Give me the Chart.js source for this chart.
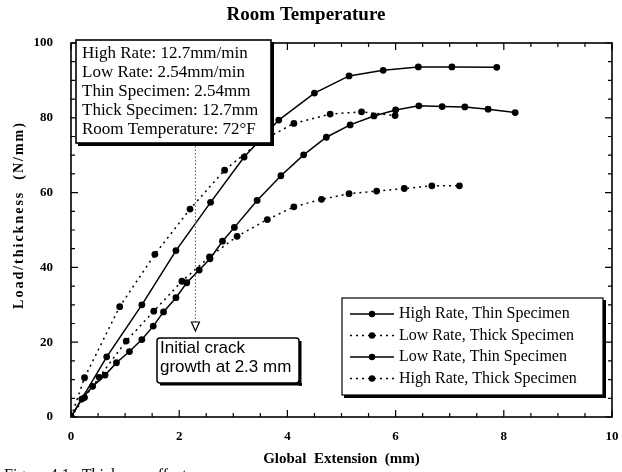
<!DOCTYPE html>
<html>
<head>
<meta charset="utf-8">
<script src="https://cdn.jsdelivr.net/npm/chart.js@4"></script>
<style>
html,body{margin:0;padding:0;background:#fff;}
#wrap{width:622px;height:472px;}
</style>
</head>
<body>
<div id="wrap"><canvas id="c" width="622" height="472"></canvas></div>
<script>
// ---- data ----
const seriesNames = ['High Rate, Thin Specimen','Low Rate, Thick Specimen','Low Rate, Thin Specimen','High Rate, Thick Specimen'];

const highThinX = [0, 0.66, 1.31, 1.94, 2.58, 3.2, 3.84, 4.5, 5.14, 5.77, 6.42, 7.04, 7.87];
const highThinY = [0, 16.1, 30, 44.5, 57.4, 69.5, 79.4, 86.6, 91.2, 92.7, 93.6, 93.6, 93.5];

const lowThickX = [0, 0.25, 0.9, 1.55, 2.2, 2.84, 3.48, 4.12, 4.79, 5.37, 5.99];
const lowThickY = [0, 10.5, 29.5, 43.5, 55.6, 66, 73.5, 78.5, 81, 81.6, 80.6];

const lowThinX = [0, 0.2, 0.4, 0.63, 0.84, 1.08, 1.31, 1.52, 1.71, 1.94, 2.14, 2.37, 2.57, 2.8, 3.02, 3.44, 3.88, 4.3, 4.72, 5.16, 5.6, 6.0, 6.43, 6.86, 7.28, 7.71, 8.21];
const lowThinY = [0, 4.8, 8.2, 11.2, 14.5, 17.5, 20.7, 24.3, 28.1, 31.9, 35.9, 39.3, 42.3, 47, 50.7, 57.9, 64.5, 70.1, 74.8, 78.1, 80.5, 82.1, 83.2, 83, 82.9, 82.3, 81.4];

const highThickX = [0, 0.25, 0.52, 1.02, 1.53, 2.05, 2.56, 3.07, 3.63, 4.12, 4.63, 5.14, 5.65, 6.16, 6.67, 7.18];
const highThickY = [0, 5.2, 10.6, 20.3, 28.3, 36.3, 42.8, 48.3, 52.8, 56.2, 58.2, 59.7, 60.4, 61.1, 61.8, 61.8];

const xTicks = [0, 2, 4, 6, 8, 10];
const yTicks = [0, 20, 40, 60, 80, 100];

const infoLines = ['High Rate: 12.7mm/min','Low Rate: 2.54mm/min','Thin Specimen: 2.54mm','Thick Specimen: 12.7mm','Room Temperature: 72\u00B0F'];
const crackLines = ['Initial crack','growth at 2.3 mm'];
const crackX = 2.3;

// ---- build ----
function pts(xs, ys){ return xs.map((x,i)=>({x:x, y:ys[i]})); }
const dashes = [[], [2,4], [], [2,4]];
const seriesData = [pts(highThinX,highThinY), pts(lowThickX,lowThickY), pts(lowThinX,lowThinY), pts(highThickX,highThickY)];

const datasets = seriesNames.map((n,i)=>({
  label: n,
  data: seriesData[i],
  borderColor: '#000',
  backgroundColor: '#000',
  borderWidth: 1.5,
  borderDash: dashes[i],
  pointRadius: 3.4,
  pointStyle: 'circle',
  pointBorderWidth: 0,
  pointBackgroundColor: '#000',
  tension: 0,
  fill: false
}));

const serif = 'Liberation Serif, Times New Roman, serif';
const sans = 'Liberation Sans, Arial, sans-serif';

const deco = {
  id: 'deco',
  afterDatasetsDraw(chart){
    const ctx = chart.ctx;
    const a = chart.chartArea;
    const xs = chart.scales.x, ys = chart.scales.y;
    ctx.save();
    ctx.strokeStyle = '#000';
    ctx.fillStyle = '#000';
    // frame
    ctx.lineWidth = 1.6;
    ctx.setLineDash([]);
    ctx.strokeRect(a.left, a.top, a.right - a.left, a.bottom - a.top);
    // inward ticks
    ctx.lineWidth = 1.2;
    ctx.beginPath();
    for (let v = 0; v <= 10.0001; v += 0.5){
      const px = xs.getPixelForValue(v);
      const len = (Math.abs(v/2 - Math.round(v/2)) < 1e-6) ? 7 : 4;
      ctx.moveTo(px, a.bottom); ctx.lineTo(px, a.bottom - len);
      ctx.moveTo(px, a.top); ctx.lineTo(px, a.top + len);
    }
    for (let v = 0; v <= 100.0001; v += 5){
      const py = ys.getPixelForValue(v);
      const len = (v % 20 === 0) ? 7 : 4;
      ctx.moveTo(a.left, py); ctx.lineTo(a.left + len, py);
      ctx.moveTo(a.right, py); ctx.lineTo(a.right - len, py);
    }
    ctx.stroke();

    // info box (top-left)
    const bx = 76, by = 40, bw = 195, bh = 103;
    ctx.fillStyle = '#fff';
    ctx.fillRect(bx, by, bw, bh);
    ctx.fillStyle = '#000';
    ctx.fillRect(bx + bw, by + 2, 3, bh + 1);
    ctx.fillRect(bx + 2, by + bh, bw + 1, 3);
    ctx.lineWidth = 1.6;
    ctx.strokeRect(bx, by, bw, bh);
    ctx.font = '17px ' + serif;
    ctx.textAlign = 'left';
    ctx.textBaseline = 'middle';
    infoLines.forEach((t,i)=>{ ctx.fillText(t, bx + 6, by + 13.5 + i*19); });

    // crack indicator
    const cx = xs.getPixelForValue(crackX);
    ctx.strokeStyle = '#555';
    ctx.lineWidth = 1;
    ctx.setLineDash([1.5, 2]);
    ctx.beginPath();
    ctx.moveTo(cx, by + bh + 3); ctx.lineTo(cx, 322);
    ctx.stroke();
    ctx.setLineDash([]);
    ctx.strokeStyle = '#000';
    ctx.lineWidth = 1.2;
    ctx.beginPath();
    ctx.moveTo(cx - 4, 322); ctx.lineTo(cx + 4, 322); ctx.lineTo(cx, 331); ctx.closePath();
    ctx.stroke();

    // crack box
    const kx = 157, ky = 338, kw = 142, kh = 45;
    ctx.fillStyle = '#fff';
    ctx.fillRect(kx, ky, kw, kh);
    ctx.fillStyle = '#000';
    ctx.fillRect(kx + kw, ky + 3, 2.5, kh);
    ctx.fillRect(kx + 3, ky + kh, kw, 2.5);
    ctx.lineWidth = 1.5;
    ctx.beginPath();
    if (ctx.roundRect) ctx.roundRect(kx, ky, kw, kh, 3); else ctx.rect(kx, ky, kw, kh);
    ctx.stroke();
    ctx.font = '17px ' + sans;
    ctx.textBaseline = 'alphabetic';
    ctx.fillText(crackLines[0], kx + 3, ky + 15);
    ctx.fillText(crackLines[1], kx + 3, ky + 34);

    // legend
    const lx = 342, ly = 298, lw = 261, lh = 97;
    ctx.fillStyle = '#fff';
    ctx.fillRect(lx, ly, lw, lh);
    ctx.fillStyle = '#000';
    ctx.fillRect(lx + lw, ly + 2, 3, lh + 1);
    ctx.fillRect(lx + 2, ly + lh, lw + 1, 3);
    ctx.lineWidth = 1.2;
    ctx.strokeRect(lx, ly, lw, lh);
    ctx.font = '16px ' + serif;
    ctx.textBaseline = 'middle';
    chart.data.datasets.forEach((d,i)=>{
      const yy = 314 + i*21.5;
      ctx.setLineDash(d.borderDash);
      ctx.lineWidth = 1.5;
      ctx.beginPath();
      ctx.moveTo(350, yy); ctx.lineTo(394, yy);
      ctx.stroke();
      ctx.setLineDash([]);
      ctx.beginPath();
      ctx.arc(372, yy, 3.2, 0, Math.PI*2);
      ctx.fill();
      ctx.fillText(d.label, 399, yy);
    });

    // y-axis title
    ctx.save();
    ctx.translate(19, 215);
    ctx.rotate(-Math.PI/2);
    ctx.font = 'bold 14px ' + serif;
    try { ctx.letterSpacing = '2px'; } catch(e) {}
    ctx.textAlign = 'center';
    ctx.textBaseline = 'middle';
    ctx.fillText('Load/thickness  (N/mm)', 0, 0);
    ctx.restore();

    // caption (cut off at the bottom)
    ctx.font = '16px ' + serif;
    ctx.textAlign = 'left';
    ctx.textBaseline = 'alphabetic';
    ctx.fillText('Figure 4.1   Thickness effect', 4, 480);
    ctx.restore();
  }
};

new Chart(document.getElementById('c'), {
  type: 'line',
  data: { datasets: datasets },
  plugins: [deco],
  options: {
    responsive: false,
    animation: false,
    events: [],
    layout: { padding: { left: 0, right: 10, top: 0, bottom: 0 } },
    plugins: {
      legend: { display: false },
      tooltip: { enabled: false },
      title: {
        display: true,
        text: 'Room Temperature',
        color: '#000',
        font: { family: serif, size: 19, weight: 'bold' },
        padding: { top: 4, bottom: 16.2 }
      }
    },
    scales: {
      x: {
        type: 'linear', min: 0, max: 10,
        afterBuildTicks(s){ s.ticks = xTicks.map(v=>({value:v})); },
        ticks: { color: '#000', font: { family: serif, size: 13, weight: 'bold' }, padding: 12, maxRotation: 0 },
        grid: { display: false, drawTicks: false },
        border: { display: false },
        title: { display: true, text: 'Global  Extension  (mm)', color: '#000', font: { family: serif, size: 15, weight: 'bold' }, padding: { top: 0, bottom: 4 } },
        afterFit(s){ s.height = 55; s.paddingRight = 0; s.paddingLeft = 0; }
      },
      y: {
        min: 0, max: 100,
        afterBuildTicks(s){ s.ticks = yTicks.map(v=>({value:v})); },
        ticks: { color: '#000', font: { family: serif, size: 13, weight: 'bold' }, padding: 18 },
        grid: { display: false, drawTicks: false },
        border: { display: false },
        afterFit(s){ s.width = 71; s.paddingTop = 0; s.paddingBottom = 0; }
      }
    }
  }
});
</script>
</body>
</html>
